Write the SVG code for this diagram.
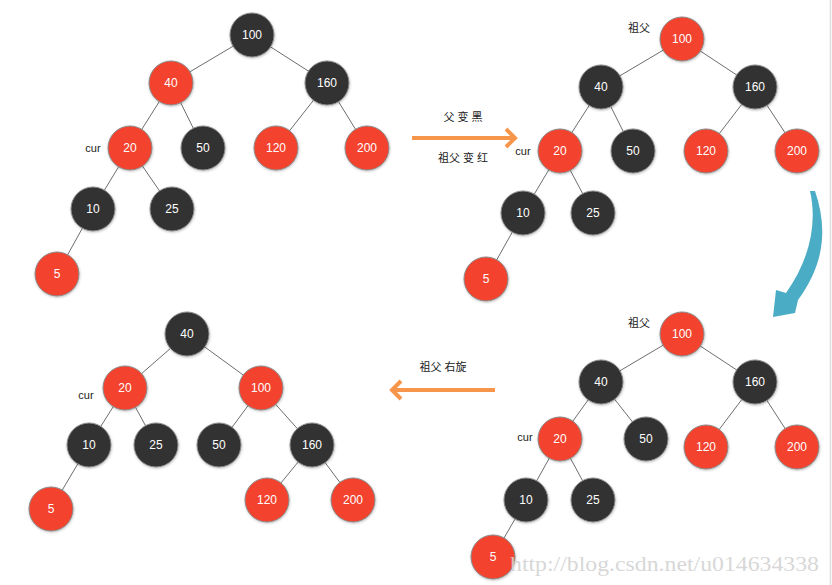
<svg xmlns="http://www.w3.org/2000/svg" width="832" height="585" viewBox="0 0 832 585">
<defs>
<filter id="sh" x="-30%" y="-30%" width="160%" height="160%">
<feDropShadow dx="0.5" dy="1" stdDeviation="1" flood-color="#000" flood-opacity="0.25"/>
</filter>
<style>
.r{fill:#F3432D;stroke:#8a8a8a;stroke-width:1;filter:url(#sh)}
.b{fill:#323232;stroke:#8a8a8a;stroke-width:1;filter:url(#sh)}
.t{fill:#fff;font-family:"Liberation Sans",Arial,sans-serif;font-size:12px;text-anchor:middle;dominant-baseline:central}
.lbl{fill:#222;font-family:"Liberation Sans","Noto Sans CJK SC",sans-serif;font-size:11px;text-anchor:middle;dominant-baseline:central}
.e{stroke:#6e6e6e;stroke-width:1;fill:none}
.oa{stroke:#F7954A;stroke-width:4;fill:none}
</style>
</defs>
<rect width="832" height="585" fill="#fff"/>
<line x1="830.5" y1="0" x2="830.5" y2="585" stroke="#dcdcdc" stroke-width="1.5"/>

<g id="connectors">
<!-- tree 1 -->
<path class="e" d="M252 35L171 83M252 35L327 83M171 83L130 148M171 83L203 148M327 83L276 148M327 83L367 148M130 148L93 209M130 148L172 209M93 209L57 274"/>
<!-- tree 2 -->
<path class="e" d="M682 39L601 87M682 39L755 87M601 87L560 151M601 87L633 151M755 87L706 151M755 87L797 151M560 151L523 213M560 151L593 213M523 213L486 279"/>
<!-- tree 3 -->
<path class="e" d="M682 334L601 382M682 334L755 382M601 382L560 439M601 382L646 439M755 382L706 447M755 382L797 447M560 439L526 500M560 439L593 500M526 500L493 557"/>
<!-- tree 4 -->
<path class="e" d="M187 334L125 388M187 334L261 388M125 388L89 445M125 388L156 445M261 388L219 445M261 388L312 445M89 445L51 509M312 445L267 500M312 445L353 500"/>
<!-- arrows -->
<g id="arrow1">
<path class="oa" d="M412 138H514M506 129L515 138L506 147"/>
</g>
<g id="arrow2">
<path fill="#4BACC6" d="M810 191L815 191C827 226 826 262 798 300L795 313L773 317L776 290L786 293C808 262 818 226 810 191Z"/>
</g>
<g id="arrow3">
<path class="oa" d="M495 390H393M401 381L392 390L401 399"/>
</g>
</g>

<g id="labels">
<text class="lbl" x="463" y="117">父 变 黑</text>
<text class="lbl" x="463" y="158">祖父 变 红</text>
<text class="lbl" x="443" y="367">祖父 右旋</text>
<text class="lbl" x="93" y="148">cur</text>
<text class="lbl" x="523" y="151">cur</text>
<text class="lbl" x="639" y="28">祖父</text>
<text class="lbl" x="525" y="437">cur</text>
<text class="lbl" x="639" y="323">祖父</text>
<text class="lbl" x="86" y="395">cur</text>
</g>

<!-- tree 1 -->
<g id="t1-100"><circle class="b" cx="252" cy="35" r="22"/><text class="t" x="252" y="35">100</text></g>
<g id="t1-40"><circle class="r" cx="171" cy="83" r="22"/><text class="t" x="171" y="83">40</text></g>
<g id="t1-160"><circle class="b" cx="327" cy="83" r="22"/><text class="t" x="327" y="83">160</text></g>
<g id="t1-20"><circle class="r" cx="130" cy="148" r="22"/><text class="t" x="130" y="148">20</text></g>
<g id="t1-50"><circle class="b" cx="203" cy="148" r="22"/><text class="t" x="203" y="148">50</text></g>
<g id="t1-120"><circle class="r" cx="276" cy="148" r="22"/><text class="t" x="276" y="148">120</text></g>
<g id="t1-200"><circle class="r" cx="367" cy="148" r="22"/><text class="t" x="367" y="148">200</text></g>
<g id="t1-10"><circle class="b" cx="93" cy="209" r="22"/><text class="t" x="93" y="209">10</text></g>
<g id="t1-25"><circle class="b" cx="172" cy="209" r="22"/><text class="t" x="172" y="209">25</text></g>
<g id="t1-5"><circle class="r" cx="57" cy="274" r="22"/><text class="t" x="57" y="274">5</text></g>

<!-- tree 2 -->
<g id="t2-100"><circle class="r" cx="682" cy="39" r="22"/><text class="t" x="682" y="39">100</text></g>
<g id="t2-40"><circle class="b" cx="601" cy="87" r="22"/><text class="t" x="601" y="87">40</text></g>
<g id="t2-160"><circle class="b" cx="755" cy="87" r="22"/><text class="t" x="755" y="87">160</text></g>
<g id="t2-20"><circle class="r" cx="560" cy="151" r="22"/><text class="t" x="560" y="151">20</text></g>
<g id="t2-50"><circle class="b" cx="633" cy="151" r="22"/><text class="t" x="633" y="151">50</text></g>
<g id="t2-120"><circle class="r" cx="706" cy="151" r="22"/><text class="t" x="706" y="151">120</text></g>
<g id="t2-200"><circle class="r" cx="797" cy="151" r="22"/><text class="t" x="797" y="151">200</text></g>
<g id="t2-10"><circle class="b" cx="523" cy="213" r="22"/><text class="t" x="523" y="213">10</text></g>
<g id="t2-25"><circle class="b" cx="593" cy="213" r="22"/><text class="t" x="593" y="213">25</text></g>
<g id="t2-5"><circle class="r" cx="486" cy="279" r="22"/><text class="t" x="486" y="279">5</text></g>

<!-- tree 3 -->
<g id="t3-100"><circle class="r" cx="682" cy="334" r="22"/><text class="t" x="682" y="334">100</text></g>
<g id="t3-40"><circle class="b" cx="601" cy="382" r="22"/><text class="t" x="601" y="382">40</text></g>
<g id="t3-160"><circle class="b" cx="755" cy="382" r="22"/><text class="t" x="755" y="382">160</text></g>
<g id="t3-20"><circle class="r" cx="560" cy="439" r="22"/><text class="t" x="560" y="439">20</text></g>
<g id="t3-50"><circle class="b" cx="646" cy="439" r="22"/><text class="t" x="646" y="439">50</text></g>
<g id="t3-120"><circle class="r" cx="706" cy="447" r="22"/><text class="t" x="706" y="447">120</text></g>
<g id="t3-200"><circle class="r" cx="797" cy="447" r="22"/><text class="t" x="797" y="447">200</text></g>
<g id="t3-10"><circle class="b" cx="526" cy="500" r="22"/><text class="t" x="526" y="500">10</text></g>
<g id="t3-25"><circle class="b" cx="593" cy="500" r="22"/><text class="t" x="593" y="500">25</text></g>
<g id="t3-5"><circle class="r" cx="493" cy="557" r="22"/><text class="t" x="493" y="557">5</text></g>

<!-- tree 4 -->
<g id="t4-40"><circle class="b" cx="187" cy="334" r="22"/><text class="t" x="187" y="334">40</text></g>
<g id="t4-20"><circle class="r" cx="125" cy="388" r="22"/><text class="t" x="125" y="388">20</text></g>
<g id="t4-100"><circle class="r" cx="261" cy="388" r="22"/><text class="t" x="261" y="388">100</text></g>
<g id="t4-10"><circle class="b" cx="89" cy="445" r="22"/><text class="t" x="89" y="445">10</text></g>
<g id="t4-25"><circle class="b" cx="156" cy="445" r="22"/><text class="t" x="156" y="445">25</text></g>
<g id="t4-50"><circle class="b" cx="219" cy="445" r="22"/><text class="t" x="219" y="445">50</text></g>
<g id="t4-160"><circle class="b" cx="312" cy="445" r="22"/><text class="t" x="312" y="445">160</text></g>
<g id="t4-5"><circle class="r" cx="51" cy="509" r="22"/><text class="t" x="51" y="509">5</text></g>
<g id="t4-120"><circle class="r" cx="267" cy="500" r="22"/><text class="t" x="267" y="500">120</text></g>
<g id="t4-200"><circle class="r" cx="353" cy="500" r="22"/><text class="t" x="353" y="500">200</text></g>

<text x="510" y="571" font-family="'Liberation Serif',serif" font-size="20" fill="#d2d2d2" fill-opacity="0.9" textLength="309" lengthAdjust="spacingAndGlyphs">http://blog.csdn.net/u014634338</text>
</svg>
